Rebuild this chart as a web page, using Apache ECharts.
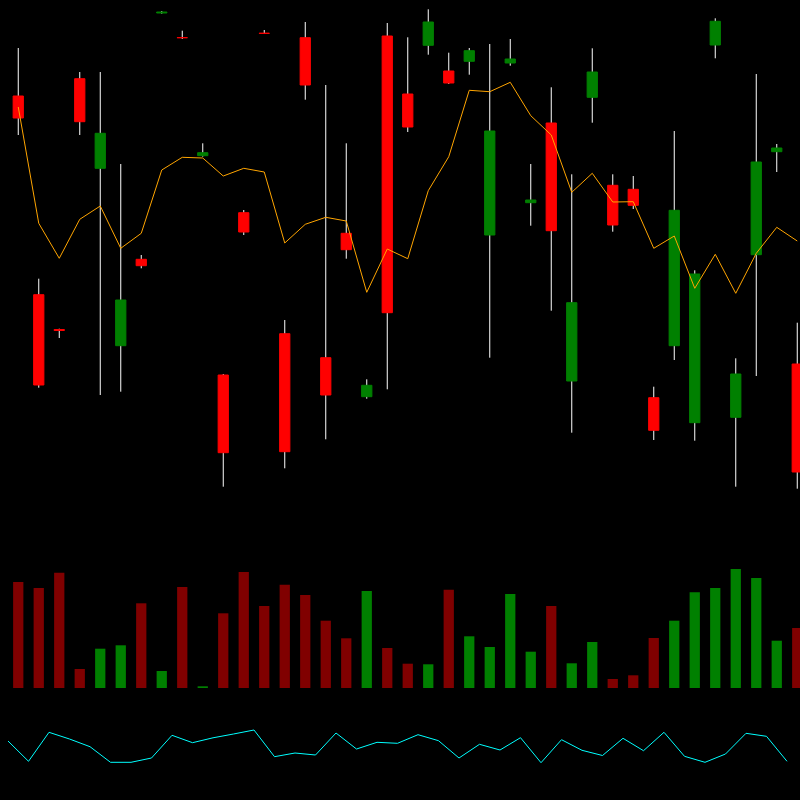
<!DOCTYPE html>
<html>
<head>
<meta charset="utf-8">
<script src="https://cdn.jsdelivr.net/npm/echarts@6/dist/echarts.min.js"></script>
<style>html,body{margin:0;padding:0;background:#000;}#c{width:800px;height:800px;}</style>
</head>
<body>
<div id="c"></div>
<script>
// [open, close, low, high]
const candles = [
  [40.4, 38.2, 36.5, 45.2],
  [20.53, 11.5, 11.23, 22.13],
  [17.05, 16.95, 16.2, 17.13],
  [42.13, 37.83, 36.5, 42.8],
  [33.17, 36.67, 10.5, 42.8],
  [15.43, 20, 10.83, 33.6],
  [24.07, 23.43, 23.17, 24.5],
  [48.7, 48.8, 48.63, 48.9],
  [46.24, 46.22, 46.1, 46.93],
  [34.43, 34.73, 34.33, 35.67],
  [12.5, 4.73, 1.33, 12.6],
  [28.73, 26.8, 26.5, 29],
  [46.68, 46.66, 46.6, 47],
  [16.63, 4.83, 3.17, 18],
  [46.23, 41.5, 40.03, 47.8],
  [14.23, 10.5, 6.07, 41.5],
  [26.67, 25.03, 24.13, 35.67],
  [10.33, 11.47, 10.13, 12.07],
  [46.4, 18.73, 11.07, 47.7],
  [40.6, 37.3, 36.8, 46.27],
  [45.47, 47.8, 44.53, 49.07],
  [42.9, 41.7, 41.6, 44.73],
  [43.87, 44.93, 42.53, 45.2],
  [26.5, 36.9, 14.23, 45.6],
  [43.7, 44.1, 43.43, 46.1],
  [29.73, 30, 27.43, 33.6],
  [37.7, 26.93, 18.93, 41.27],
  [11.9, 19.73, 6.73, 32.57],
  [40.27, 42.8, 37.73, 45.17],
  [31.47, 27.5, 26.83, 32.57],
  [31.07, 29.47, 29.1, 32.4],
  [10.23, 6.97, 6, 11.33],
  [15.43, 28.97, 14, 36.9],
  [7.73, 22.6, 5.93, 22.97],
  [45.5, 47.87, 44.17, 48.17],
  [8.27, 12.6, 1.33, 14.17],
  [24.53, 33.8, 12.4, 42.6],
  [34.83, 35.2, 32.8, 35.6],
  [13.6, 2.8, 1.13, 17.73]
];
const orangeLine = [39.3, 27.67, 24.17, 28.07, 29.4, 25.17, 26.67, 33, 34.27, 34.2, 32.4, 33.17, 32.8, 25.7, 27.57, 28.27, 27.9, 20.77, 25.1, 24.13, 30.93, 34.33, 40.97, 40.83, 41.77, 38.43, 36.5, 30.77, 32.67, 29.8, 29.83, 25.17, 26.4, 21.17, 24.57, 20.67, 24.67, 27.27, 25.9];
const volumes = [106, 100, 115.3, 19, 39.3, 42.7, 84.7, 17, 101, 1.7, 74.7, 116, 82, 103.3, 93, 67.3, 49.7, 97, 40, 24.3, 23.7, 98.3, 51.7, 41, 94, 36.3, 82, 24.7, 46, 9, 12.7, 50, 67.3, 95.7, 100, 119, 110, 47.3, 60];
const cyanLine = [39, 18.7, 47.7, 41, 33.3, 17.7, 17.7, 22, 44.7, 37.3, 42.2, 46, 50, 23.3, 27, 25, 47, 31, 37.7, 36.7, 45.3, 39.3, 22, 35.7, 30, 42.3, 17.3, 40.3, 29.7, 24.5, 41.7, 29.3, 47.7, 23.7, 17.7, 26, 46.7, 43.7, 18.7];
const categories = candles.map((d, i) => String(i + 1));

const UP = '#008000', DOWN = '#ff0000', VUP = '#008000', VDOWN = '#800000';
const isUp = d => d[1] > d[0];

const chart = echarts.init(document.getElementById('c'), null, {renderer: 'canvas'});
chart.setOption({
  backgroundColor: '#000',
  animation: false,
  grid: [
    {left: 8, width: 799.5, top: 0, height: 500, outerBoundsMode: 'none', containLabel: false},
    {left: 8, width: 799.5, top: 558, height: 130, outerBoundsMode: 'none', containLabel: false},
    {left: 8, width: 779, top: 700, height: 80, outerBoundsMode: 'none', containLabel: false}
  ],
  xAxis: [
    {type: 'category', data: categories, gridIndex: 0, boundaryGap: true, show: false},
    {type: 'category', data: categories, gridIndex: 1, boundaryGap: true, show: false},
    {type: 'category', data: categories, gridIndex: 2, boundaryGap: false, show: false}
  ],
  yAxis: [
    {type: 'value', gridIndex: 0, min: 0, max: 50, show: false, splitLine: {show: false}},
    {type: 'value', gridIndex: 1, min: 0, max: 130, show: false, splitLine: {show: false}},
    {type: 'value', gridIndex: 2, min: 0, max: 80, show: false, splitLine: {show: false}}
  ],
  series: [
    {
      type: 'custom',
      xAxisIndex: 0, yAxisIndex: 0,
      clip: false,
      data: candles.map((d, i) => [i, d[0], d[1], d[2], d[3]]),
      renderItem: function (params, api) {
        const i = api.value(0), o = api.value(1), c = api.value(2), l = api.value(3), h = api.value(4);
        const top = api.coord([i, Math.max(o, c)]);
        const bot = api.coord([i, Math.min(o, c)]);
        const lo = api.coord([i, l]);
        const hi = api.coord([i, h]);
        const w = api.size([1, 0])[0] * 0.5;
        const color = c > o ? UP : DOWN;
        return {
          type: 'group',
          children: [
            {type: 'line', shape: {x1: hi[0], y1: hi[1], x2: lo[0], y2: lo[1]}, style: {stroke: '#ffffff', lineWidth: 1}},
            {type: 'rect', shape: {x: top[0] - w / 2, y: top[1], width: w, height: Math.max(bot[1] - top[1], 0)}, style: {fill: color, stroke: color, lineWidth: 1}}
          ]
        };
      }
    },
    {
      type: 'line', xAxisIndex: 0, yAxisIndex: 0, data: orangeLine,
      showSymbol: false, symbol: 'none',
      lineStyle: {color: '#ffa500', width: 1}
    },
    {
      type: 'bar', xAxisIndex: 1, yAxisIndex: 1, barWidth: '50%',
      data: volumes.map((v, i) => ({value: v, itemStyle: {color: isUp(candles[i]) ? VUP : VDOWN}}))
    },
    {
      type: 'line', xAxisIndex: 2, yAxisIndex: 2, data: cyanLine,
      showSymbol: false, symbol: 'none',
      lineStyle: {color: '#00ffff', width: 1}
    }
  ]
});
</script>
</body>
</html>
